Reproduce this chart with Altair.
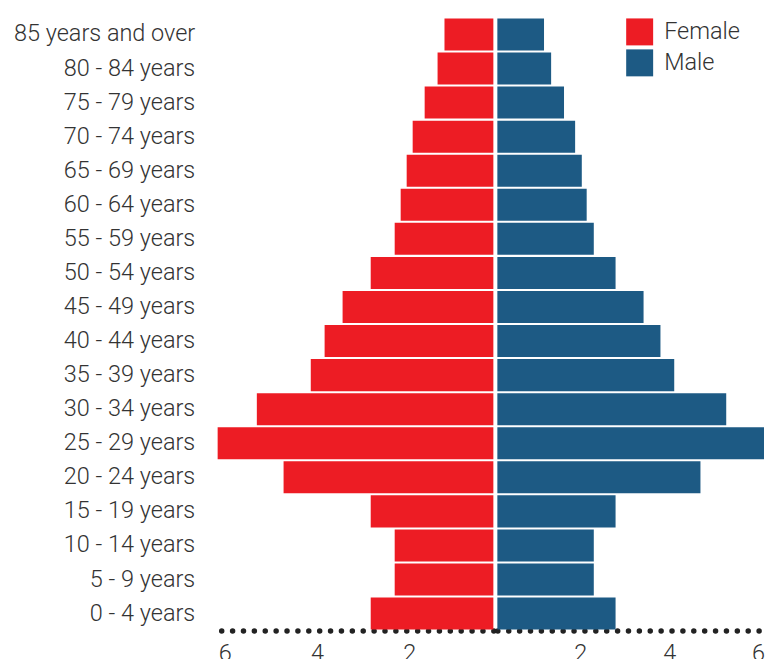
import altair as alt
import pandas as pd

ages = [
    "85 years and over", "80 - 84 years", "75 - 79 years", "70 - 74 years",
    "65 - 69 years", "60 - 64 years", "55 - 59 years", "50 - 54 years",
    "45 - 49 years", "40 - 44 years", "35 - 39 years", "30 - 34 years",
    "25 - 29 years", "20 - 24 years", "15 - 19 years", "10 - 14 years",
    "5 - 9 years", "0 - 4 years",
]
female = [1.06, 1.21, 1.49, 1.75, 1.88, 2.01, 2.14, 2.66, 3.27, 3.66, 3.96,
          5.13, 5.98, 4.55, 2.66, 2.14, 2.14, 2.66]
male = [1.05, 1.21, 1.50, 1.75, 1.90, 2.01, 2.17, 2.66, 3.29, 3.67, 3.98,
        5.15, 6.00, 4.57, 2.66, 2.17, 2.17, 2.66]
sexes = ["Female", "Male"]
colors = ["#ED1C24", "#1D5A84"]
tick_values = [2, 4, 6]

FONT = "Roboto"
TEXT = "#333333"
FS = 23.5

df = pd.DataFrame({
    "Age": ages * 2,
    "Sex": ["Female"] * len(ages) + ["Male"] * len(ages),
    "Value": female + male,
})

color = alt.Color(
    "Sex:N",
    scale=alt.Scale(domain=sexes, range=colors),
    legend=alt.Legend(
        title=None, orient="none", legendX=410, legendY=1,
        symbolType="square", symbolSize=729, symbolStrokeWidth=0,
        symbolOpacity=1,
        labelFontSize=FS, labelFont=FONT, labelFontWeight=300,
        labelColor=TEXT, labelOffset=11, rowPadding=4,
    ),
)

yscale = alt.Scale(paddingInner=0.06, paddingOuter=0.03)


def xaxis(offset):
    return alt.Axis(
        title=None, values=tick_values, grid=False, ticks=False,
        domainDash=[0, 10.9], domainCap="round", domainWidth=5.5,
        domainColor="#222222", labelFontSize=FS, labelFont=FONT,
        labelFontWeight=300, labelColor=TEXT, labelPadding=11,
        labelOffset=offset, labelFlush=False, format="d",
    )


base = alt.Chart(df)

left = base.transform_filter(alt.datum.Sex == "Female").mark_bar().encode(
    x=alt.X("Value:Q", scale=alt.Scale(domain=[0, 6], reverse=True, nice=False),
            axis=xaxis(8)),
    y=alt.Y("Age:N", sort=ages, scale=yscale,
            axis=alt.Axis(title=None, ticks=False, domain=False, labelPadding=22,
                          labelFontSize=FS, labelFont=FONT, labelFontWeight=300,
                          labelColor=TEXT, labelLimit=400)),
    color=color,
).properties(width=277, height=614)

right = base.transform_filter(alt.datum.Sex == "Male").mark_bar().encode(
    x=alt.X("Value:Q", scale=alt.Scale(domain=[0, 6], nice=False),
            axis=xaxis(-6)),
    y=alt.Y("Age:N", sort=ages, scale=yscale, axis=None),
    color=color,
).properties(width=267, height=614)

chart = alt.hconcat(left, right, spacing=4).properties(
    padding={"left": 5, "top": 9, "right": 0, "bottom": 0}
).configure_view(stroke=None).configure_concat(spacing=4)

chart.save("out.html", embed_options={"renderer": "svg", "actions": False})
